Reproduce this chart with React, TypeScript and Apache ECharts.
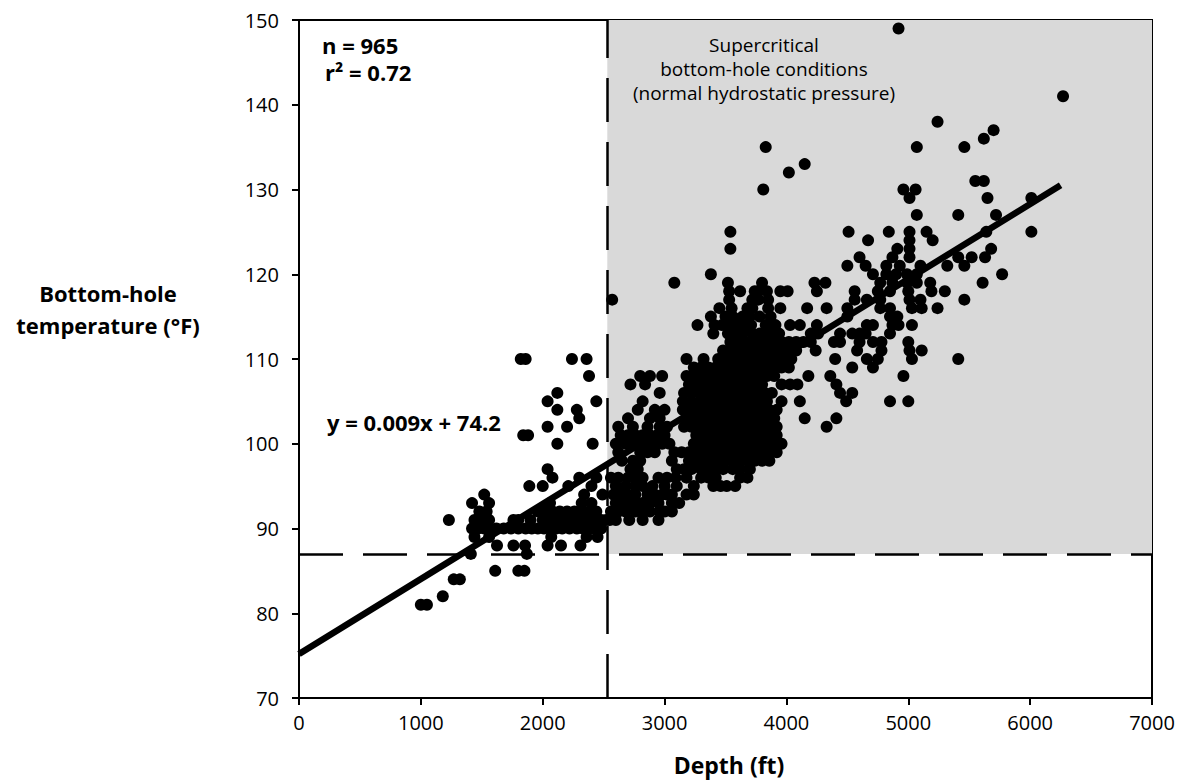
import React, { useEffect, useRef } from "react";
import * as echarts from "echarts";

// Temperature level (°F) -> depths (ft)
const shallowRows: [number, number[]][] = [
  [81, [1000, 1050]],
  [82, [1180]],
  [84, [1270, 1320]],
  [85, [1610, 1800, 1850]],
  [87, [1410, 1870]],
  [88, [1625, 1760, 1855, 2040, 2150, 2310]],
  [89, [1440, 1560, 2070, 2360, 2450]],
  [90, [1420, 1470, 1520, 1560, 1620, 1680, 1740, 1800, 1860, 1910, 1960, 2010, 2060, 2110, 2160, 2220, 2280, 2330, 2380, 2420, 2480]],
  [91, [1230, 1440, 1500, 1560, 1760, 1800, 1900, 2000, 2060, 2120, 2180, 2240, 2300, 2360, 2420, 2480, 2520]],
  [92, [1480, 1540, 1960, 2020, 2080, 2140, 2200, 2260, 2320, 2380, 2440]],
  [93, [1420, 1560, 2060, 2320, 2400]],
  [94, [1520, 2340, 2490]],
  [95, [1890, 2000, 2210, 2400]],
  [96, [2080, 2300, 2440]],
  [97, [2040]],
  [100, [2120, 2410]],
  [101, [1840, 1880]],
  [102, [2040, 2200]],
  [103, [2300]],
  [104, [2120, 2280]],
  [105, [2040, 2440]],
  [106, [2120]],
  [108, [2380]],
  [110, [1820, 1860, 2240, 2360]],
];

const deepRows: [number, number[]][] = [
  [91, [2550, 2600, 2710, 2820, 2950]],
  [92, [2560, 2620, 2680, 2760, 2820, 2880, 2960, 3000, 3060]],
  [93, [2600, 2660, 2720, 2780, 2820, 2880, 2950, 3060, 3120]],
  [94, [2580, 2640, 2700, 2760, 2860, 2920, 2980, 3020, 3060, 3180, 3240]],
  [95, [2600, 2680, 2760, 2820, 2900, 3000, 3100, 3240, 3400, 3460, 3510, 3580]],
  [96, [2560, 2620, 2700, 2760, 2820, 2950, 3020, 3090, 3180, 3300, 3360, 3420, 3620, 3680]],
  [97, [2720, 2780, 3100, 3160, 3220, 3300, 3360, 3420, 3480, 3560, 3620, 3700]],
  [98, [2650, 2740, 2800, 3060, 3200, 3260, 3320, 3380, 3440, 3500, 3560, 3620, 3680, 3740, 3800, 3860]],
  [99, [2620, 2800, 2860, 2920, 3080, 3140, 3200, 3260, 3320, 3380, 3440, 3500, 3560, 3620, 3680, 3740, 3800, 3860, 3920]],
  [100, [2600, 2680, 2740, 2800, 2860, 2920, 2980, 3040, 3240, 3300, 3360, 3420, 3480, 3540, 3600, 3660, 3720, 3780, 3840, 3900, 3960]],
  [101, [2640, 2700, 2760, 2820, 2880, 2940, 3000, 3260, 3320, 3380, 3440, 3500, 3560, 3620, 3680, 3740, 3800, 3860, 3920]],
  [102, [2620, 2740, 2860, 2960, 3020, 3160, 3220, 3280, 3340, 3400, 3460, 3520, 3580, 3640, 3700, 3760, 3820, 3880, 3920, 4330]],
  [103, [2700, 2880, 2960, 3180, 3240, 3300, 3360, 3420, 3480, 3540, 3600, 3660, 3720, 3780, 3840, 3900, 4150, 4410]],
  [104, [2780, 2920, 3000, 3150, 3200, 3260, 3320, 3380, 3440, 3500, 3560, 3620, 3680, 3740, 3800, 3860, 3920]],
  [105, [2820, 3150, 3220, 3300, 3360, 3420, 3480, 3540, 3600, 3660, 3720, 3780, 3840, 3960, 4110, 4490, 4850, 5000]],
  [106, [2960, 3160, 3220, 3280, 3340, 3400, 3460, 3520, 3580, 3640, 3700, 3760, 3820, 3880, 4440, 4540]],
  [107, [2720, 2840, 3200, 3260, 3320, 3380, 3440, 3500, 3560, 3620, 3680, 3740, 3800, 3960, 4030, 4090, 4410]],
  [108, [2800, 2880, 2980, 3180, 3240, 3300, 3360, 3420, 3480, 3540, 3600, 3660, 3720, 3780, 3840, 3900, 4180, 4360, 4960]],
  [109, [3240, 3300, 3360, 3420, 3480, 3540, 3600, 3660, 3720, 3780, 3840, 3900, 3960, 4020, 4540, 4710]],
  [110, [3180, 3320, 3440, 3500, 3560, 3620, 3680, 3740, 3800, 3860, 3920, 3980, 4040, 4400, 4660, 4750, 5030, 5410]],
  [111, [3480, 3540, 3600, 3660, 3720, 3780, 3840, 3900, 3960, 4020, 4080, 4240, 4580, 4780, 5010, 5110]],
  [112, [3540, 3600, 3660, 3720, 3780, 3840, 3900, 3960, 4020, 4080, 4140, 4200, 4390, 4440, 4600, 4710, 4780, 5000]],
  [113, [3400, 3520, 3580, 3640, 3720, 3780, 3820, 3880, 3940, 4200, 4260, 4440, 4540, 4600, 4650, 4850]],
  [114, [3270, 3410, 3470, 3540, 3600, 3680, 3710, 3830, 3910, 4030, 4110, 4250, 4660, 4710, 4870, 4920, 5030]],
  [115, [3380, 3500, 3560, 3640, 3700, 3780, 3870, 4500, 4850, 4910]],
  [116, [3450, 3550, 3680, 3720, 3850, 3950, 4170, 4330, 4500, 4770, 4850, 5030, 5110, 5240]],
  [117, [2570, 3530, 3720, 3770, 3850, 4560, 4660, 4770, 5010, 5100, 5460]],
  [118, [3530, 3620, 3740, 3770, 3840, 3950, 4010, 4250, 4560, 4750, 4850, 5000, 5190, 5300]],
  [119, [3080, 3520, 3800, 4230, 4320, 4770, 4870, 4990, 5070, 5180, 5610]],
  [120, [3380, 4710, 4820, 4900, 4990, 5070, 5770]],
  [121, [4500, 4650, 4820, 4930, 5100, 5320, 5460]],
  [122, [4600, 4870, 5010, 5410, 5520, 5630]],
  [123, [3540, 4910, 5010, 5680]],
  [124, [4670, 5010, 5200]],
  [125, [3540, 4510, 4840, 5010, 5150, 5640, 6010]],
  [127, [5070, 5410, 5720]],
  [129, [5010, 5650, 6010]],
  [130, [3810, 4960, 5060]],
  [131, [5550, 5620]],
  [132, [4020]],
  [133, [4150]],
  [135, [3830, 5070, 5460]],
  [136, [5620]],
  [137, [5700]],
  [138, [5240]],
  [141, [6270]],
  [149, [4920]],
];

const fitLine: [number, number][] = [
  [0, 75.2],
  [6250, 130.5],
];
const boundaryDepth = 2530;
const boundaryTemp = 87;
const xTicks = { min: 0, max: 7000, interval: 1000 };
const yTicks = { min: 70, max: 150, interval: 10 };
const regionLines = ["Supercritical", "bottom-hole conditions", "(normal hydrostatic pressure)"];
const yTitleLines = ["Bottom-hole", "temperature (°F)"];

const FONT = "'Open Sans', 'Noto Sans', sans-serif";

function toPoints(rows: [number, number[]][]): [number, number][] {
  const out: [number, number][] = [];
  rows.forEach(([t, ds]) => ds.forEach((d) => out.push([d, t])));
  return out;
}

function label(text: string, x: number, y: number, font: string, align = "left") {
  return {
    type: "text",
    z: 100,
    x,
    y,
    style: {
      text,
      font,
      fill: "#000",
      align,
      verticalAlign: "middle",
      lineHeight: 20,
    },
  };
}

export default function App() {
  const ref = useRef<HTMLDivElement>(null);
  useEffect(() => {
    document.body.style.margin = "0";
    if (!ref.current) return;
    const chart = echarts.init(ref.current, undefined, { renderer: "svg" });
    const axisCommon = {
      axisLine: { show: true, lineStyle: { color: "#000", width: 2 } },
      axisTick: { show: true, inside: false, length: 7, lineStyle: { color: "#000", width: 2 } },
      splitLine: { show: false },
      axisLabel: {
        color: "#000",
        fontSize: 20,
        fontFamily: FONT,
        formatter: (v: number) => String(v),
      },
    };
    const bold22 = `bold 22px ${FONT}`;
    chart.setOption({
      animation: false,
      backgroundColor: "#fff",
      textStyle: { fontFamily: FONT },
      grid: {
        left: 299,
        right: 28,
        top: 20,
        bottom: 85,
        show: true,
        borderColor: "#000",
        borderWidth: 2,
        backgroundColor: "transparent",
      },
      xAxis: {
        type: "value",
        ...xTicks,
        ...axisCommon,
        axisLabel: { ...axisCommon.axisLabel, margin: 14 },
      },
      yAxis: {
        type: "value",
        ...yTicks,
        ...axisCommon,
        axisLabel: { ...axisCommon.axisLabel, margin: 20 },
      },
      series: [
        {
          type: "line",
          data: [],
          z: 1,
          silent: true,
          markArea: {
            silent: true,
            itemStyle: { color: "#d9d9d9" },
            data: [[{ xAxis: boundaryDepth, yAxis: boundaryTemp }, { xAxis: xTicks.max, yAxis: yTicks.max }]],
          },
        },
        {
          type: "line",
          data: [],
          z: 2,
          silent: true,
          markLine: {
            silent: true,
            symbol: ["none", "none"],
            label: { show: false },
            lineStyle: { color: "#000", width: 2.5, type: [44, 20] },
            data: [{ xAxis: boundaryDepth }, { yAxis: boundaryTemp }],
          },
        },
        {
          type: "scatter",
          z: 3,
          symbolSize: 12,
          itemStyle: { color: "#000", opacity: 1 },
          data: toPoints(shallowRows),
        },
        {
          type: "scatter",
          z: 3,
          symbolSize: 12,
          itemStyle: { color: "#000", opacity: 1 },
          data: toPoints(deepRows),
        },
        {
          type: "line",
          z: 4,
          symbol: "none",
          lineStyle: { color: "#000", width: 6.5 },
          data: fitLine,
        },
      ],
      graphic: [
        label("n = 965", 322, 45, bold22),
        label("r² = 0.72", 325, 72, bold22),
        label("y = 0.009x + 74.2", 327, 422, bold22),
        label(regionLines[0], 764, 45, `19px ${FONT}`, "center"),
        label(regionLines[1], 764, 69, `19px ${FONT}`, "center"),
        label(regionLines[2], 764, 93, `19px ${FONT}`, "center"),
        label(yTitleLines[0], 108, 293, bold22, "center"),
        label(yTitleLines[1], 108, 325, bold22, "center"),
        label("Depth (ft)", 729, 765, `bold 23px ${FONT}`, "center"),
      ],
    });
    return () => chart.dispose();
  }, []);
  return <div ref={ref} style={{ width: 1180, height: 783 }} />;
}
